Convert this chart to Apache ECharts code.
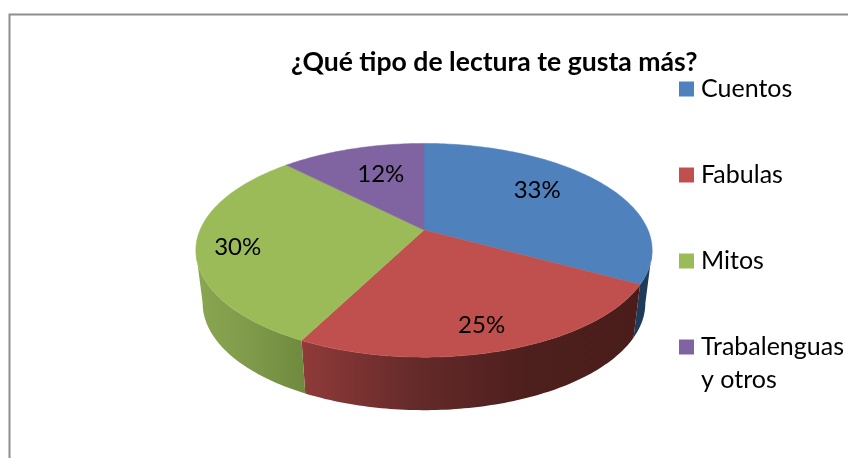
<!DOCTYPE html>
<html>
<head>
<meta charset="utf-8">
<style>
    html, body { margin: 0; padding: 0; background: #fff; }
    #chart { width: 848px; height: 458px; }
</style>
<script src="https://cdn.jsdelivr.net/npm/echarts@6/dist/echarts.min.js"></script>
</head>
<body>
<div id="chart"></div>
<script>
const titleText = '¿Qué tipo de lectura te gusta más?';
const categories = ['Cuentos', 'Fabulas', 'Mitos', 'Trabalenguas\ny otros'];
// read from the slice edges, the printed labels are these rounded
const values = [33, 24.5, 30.2, 12.3];
const colors = ['#4f81bd', '#c0504d', '#9bbb59', '#8064a2'];
// wall shading, left to right
const wallStops = [
    ['#1f3b59', '#1f3b59'],
    ['#8f3b39', '#652a2a', '#4d1f1d', '#4a1d1b'],
    ['#8ba651', '#7f9a4a', '#6f8a3e'],
    ['#4d3c62', '#4d3c62']
];
// label nudge from the slice middle
const labelShift = [[-30, -1], [-4, 3], [-5, 5], [16, 11]];

const fontName = 'Lato, Carlito, sans-serif';
const total = values.reduce((a, b) => a + b, 0);

// tilted disc, perspective projection of the unit circle
const cx = 424, cy = 230, ax = 224, ay = 103, k = 0.19;
const depth = 53, bottomScale = 0.97;
const wallFrom = 101, wallTo = 259; // degrees where the rim faces the viewer

const project = (deg, r) => {
    const a = deg * Math.PI / 180;
    const w = 1 + k * r * Math.cos(a);
    return [cx + ax * r * Math.sin(a) / w, cy - ay * r * Math.cos(a) / w];
};
const lower = (p) => [cx + (p[0] - cx) * bottomScale, p[1] + depth];

const arc = (from, to) => {
    const pts = [];
    const n = Math.max(2, Math.ceil(Math.abs(to - from)));
    for (let i = 0; i <= n; i++) {
        pts.push(project(from + (to - from) * i / n, 1));
    }
    return pts;
};

const startOf = (idx) => values.slice(0, idx).reduce((a, b) => a + b, 0) / total * 360;

const renderSlice = (idx) => () => {
    const start = startOf(idx);
    const end = start + values[idx] / total * 360;
    const children = [];

    const wa = Math.max(start, wallFrom), wb = Math.min(end, wallTo);
    if (wb > wa) {
        const top = arc(wa, wb);
        const stops = wallStops[idx];
        children.push({
            type: 'polygon',
            shape: { points: top.concat(top.map(lower).reverse()) },
            style: {
                fill: new echarts.graphic.LinearGradient(0, 0, 1, 0,
                    stops.map((c, i) => ({ offset: i / (stops.length - 1), color: c })))
            }
        });
    }

    children.push({
        type: 'polygon',
        shape: { points: [[cx, cy]].concat(arc(start, end)) },
        style: { fill: colors[idx], stroke: colors[idx], lineWidth: 0.5 }
    });

    const mid = project((start + end) / 2, 0.8);
    children.push({
        type: 'text',
        z2: 10,
        x: mid[0] + labelShift[idx][0],
        y: mid[1] + labelShift[idx][1],
        style: {
            text: Math.round(values[idx] / total * 100) + '%',
            fontFamily: fontName,
            fontSize: 24,
            fill: '#000',
            align: 'center',
            verticalAlign: 'middle'
        }
    });
    return { type: 'group', children };
};

const myChart = echarts.init(document.getElementById('chart'));
const option = {
    animation: false,
    backgroundColor: '#fff',
    title: {
        text: titleText,
        left: 286,
        top: 44,
        textStyle: { fontFamily: fontName, fontSize: 26.6, fontWeight: 'bold', color: '#000' }
    },
    legend: {
        orient: 'vertical',
        left: 674,
        top: 70,
        itemWidth: 15,
        itemHeight: 15,
        itemGap: 58,
        icon: 'rect',
        selectedMode: false,
        data: categories,
        formatter: (name) => name.split('\n')[0],
        textStyle: { fontFamily: fontName, fontSize: 25, color: '#000', lineHeight: 28, padding: [0, 0, 0, 2] }
    },
    graphic: [
        {
            type: 'rect',
            silent: true,
            shape: { x: 9.5, y: 14.5, width: 900, height: 500 },
            style: { fill: 'none', stroke: '#8e8e8e', lineWidth: 2 }
        },
        {
            type: 'text',
            silent: true,
            x: 701,
            y: 380,
            style: {
                text: categories[3].split('\n')[1],
                fontFamily: fontName,
                fontSize: 25,
                fill: '#000',
                verticalAlign: 'middle'
            }
        }
    ],
    series: categories.map((name, i) => ({
        type: 'custom',
        name: name,
        coordinateSystem: 'none',
        silent: true,
        itemStyle: { color: colors[i] },
        data: [values[i]],
        renderItem: renderSlice(i)
    }))
};
option && myChart.setOption(option);
</script>
</body>
</html>
